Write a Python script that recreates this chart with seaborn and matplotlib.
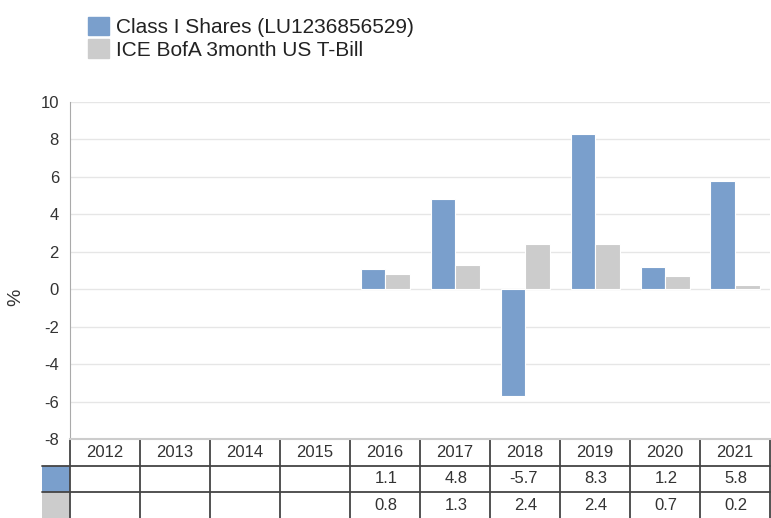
import pandas as pd
import numpy as np
from matplotlib import pyplot as plt
from matplotlib.patches import Rectangle, Patch
import seaborn as sns

# Data
years = ["2012", "2013", "2014", "2015", "2016", "2017", "2018", "2019", "2020", "2021"]
fund = [None, None, None, None, 1.1, 4.8, -5.7, 8.3, 1.2, 5.8]
bench = [None, None, None, None, 0.8, 1.3, 2.4, 2.4, 0.7, 0.2]
fund_name = "Class I Shares (LU1236856529)"
bench_name = "ICE BofA 3month US T-Bill"

blue = "#7a9fcc"
grey = "#cccccc"

df = pd.DataFrame({
    "year": years * 2,
    "series": [fund_name] * len(years) + [bench_name] * len(years),
    "value": fund + bench,
}).dropna()

sns.set_style("white")
plt.rcParams["font.family"] = ["Liberation Sans", "DejaVu Sans"]
plt.rcParams["axes.unicode_minus"] = False

fig = plt.figure(figsize=(7.71, 5.18), dpi=100)
ax = fig.add_axes([70 / 771, 79 / 518, 700 / 771, 337 / 518])

sns.barplot(
    data=df, x="year", y="value", hue="series",
    order=years, hue_order=[fund_name, bench_name],
    palette={fund_name: blue, bench_name: grey}, saturation=1,
    width=0.7, edgecolor="white", linewidth=0.8,
    errorbar=None, ax=ax, zorder=3,
)

ax.set_xlim(-0.5, len(years) - 0.5)
ax.set_ylim(-8, 10)
ax.set_yticks(np.arange(-8, 11, 2))
ax.yaxis.grid(True, color="#e6e6e6", linewidth=1, zorder=0)
ax.set_xticks([])
ax.set_xlabel("")
ax.set_ylabel("%", fontsize=14, color="#333333")
ax.yaxis.set_label_coords(-0.066, 0.42)
ax.tick_params(axis="y", length=0, labelsize=12, labelcolor="#333333", pad=8)
for s in ["top", "right"]:
    ax.spines[s].set_visible(False)
ax.spines["left"].set_color("#aaaaaa")
ax.spines["bottom"].set_color("#cccccc")
ax.spines["bottom"].set_linewidth(1.5)

ax.legend_.remove()
fig.legend(
    handles=[Patch(color=blue), Patch(color=grey)],
    labels=[fund_name, bench_name],
    loc="upper left", bbox_to_anchor=(69 / 771, 1 + 2 / 518),
    frameon=False, fontsize=15, handlelength=1.0, handleheight=1.0,
    handletextpad=0.35, labelspacing=0.1, labelcolor="#222222",
)

# data table under the plot
trans = ax.get_xaxis_transform()
rh = 26.5 / 337
line_col = "#444444"
for i in range(len(years) + 1):
    ax.plot([i - 0.5, i - 0.5], [0, -3 * rh], transform=trans, color=line_col,
            lw=1.3, clip_on=False)
for k in (1, 2):
    ax.plot([-0.9, len(years) - 0.5], [-k * rh, -k * rh], transform=trans,
            color=line_col, lw=1.3, clip_on=False)
for k, col in ((1, blue), (2, grey)):
    ax.add_patch(Rectangle((-0.9, -(k + 1) * rh), 0.4, rh, transform=trans,
                           facecolor=col, edgecolor="none", clip_on=False))

for i, y in enumerate(years):
    ax.text(i, -0.5 * rh, y, transform=trans, ha="center", va="center",
            fontsize=12, color="#333333")
    for k, vals in ((1, fund), (2, bench)):
        if vals[i] is not None:
            ax.text(i + 0.5 - 0.32, -(k + 0.5) * rh, f"{vals[i]:.1f}", transform=trans,
                    ha="right", va="center", fontsize=12, color="#333333")

fig.savefig("out.png", dpi=100)
